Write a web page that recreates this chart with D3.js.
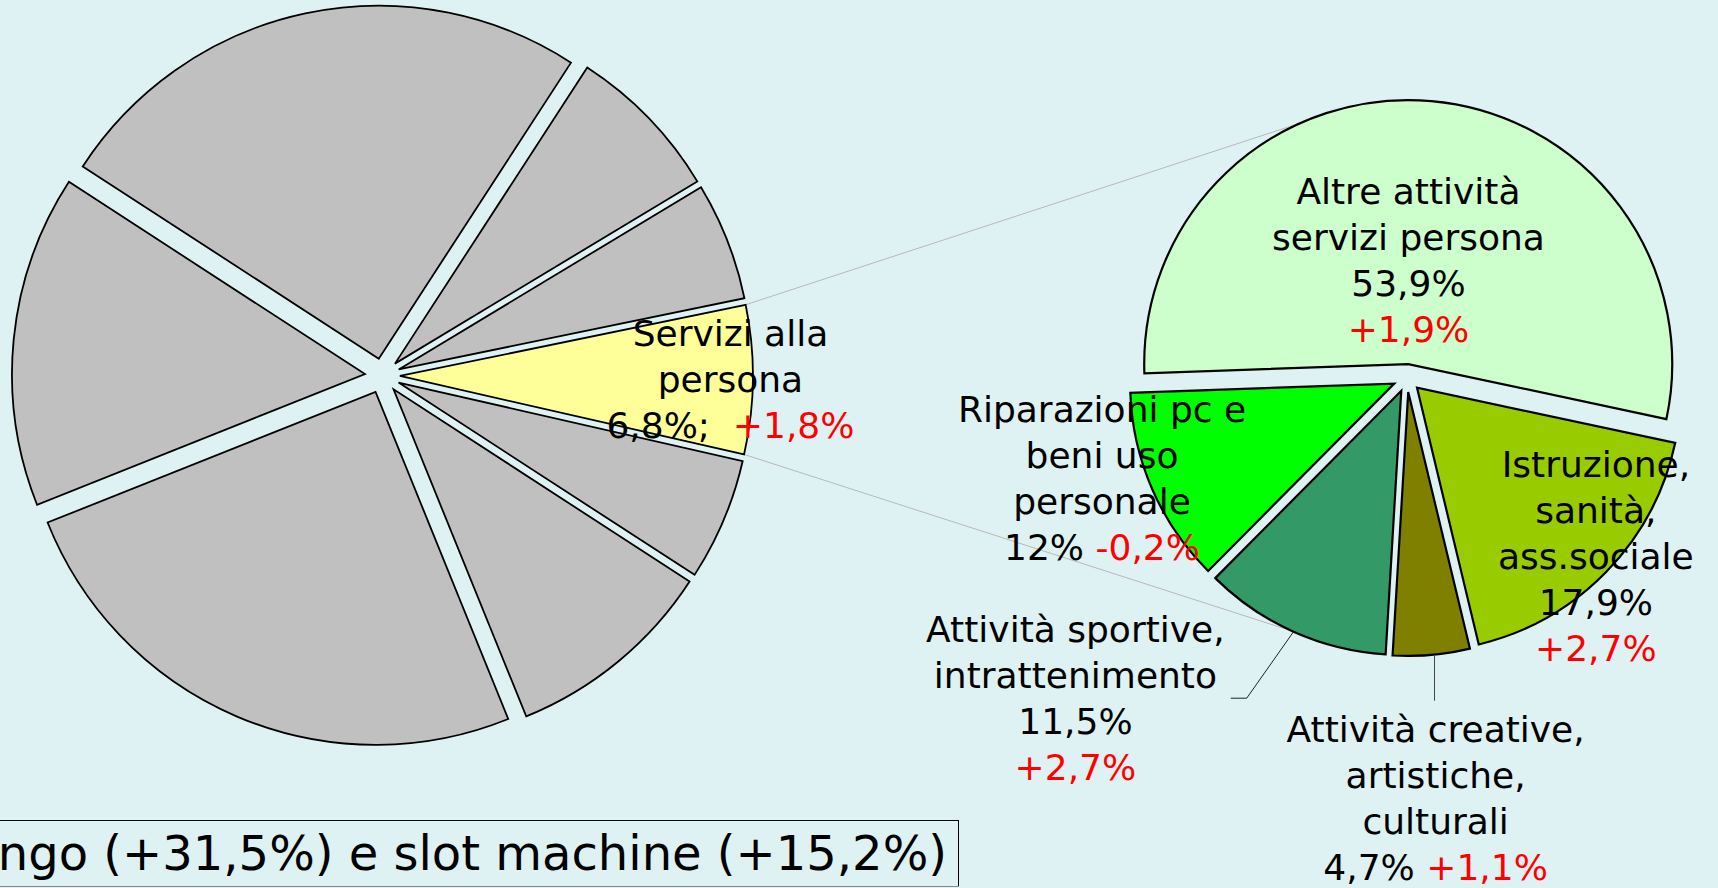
<!DOCTYPE html>
<html><head><meta charset="utf-8">
<script src="https://cdn.jsdelivr.net/npm/d3@7"></script>
<style>
html,body{margin:0;padding:0;background:#DFF2F3;overflow:hidden}
svg{display:block}
text{font-family:"DejaVu Sans",Verdana,sans-serif;white-space:pre}
</style></head><body>
<svg id="chart" width="1718" height="888"></svg>
<script>
// ---------- DATA ----------
const mainCategories = ["Settore 1","Settore 2","Settore 3","Servizi alla persona","Settore 5","Settore 6","Settore 7","Settore 8"];
const mainValues = [25.0, 7.2, 5.4, 6.8, 5.6, 9.7, 25.1, 15.2];
const highlightIndex = 3;
const mainLabelLines = ["Servizi alla", "persona"];
const mainShare = "6,8%;  ";
const mainChange = "+1,8%";

const subCategories = ["Altre attività servizi persona","Istruzione, sanità, ass.sociale","Attività creative, artistiche, culturali","Attività sportive, intrattenimento","Riparazioni pc e beni uso personale"];
const subValues = [53.9, 17.9, 4.7, 11.5, 12.0];
const subNameLines = [
  ["Altre attività","servizi persona"],
  ["Istruzione,","sanità,","ass.sociale"],
  ["Attività creative,","artistiche,","culturali"],
  ["Attività sportive,","intrattenimento"],
  ["Riparazioni pc e","beni uso","personale"]
];
const subShares = ["53,9%","17,9%","4,7%","11,5%","12%"];
const subChanges = ["+1,9%","+2,7%","+1,1%","+2,7%","-0,2%"];
const subChangeInline = [false, false, true, false, true];
const noteText = "Bingo (+31,5%) e slot machine (+15,2%)";

// ---------- STYLE / LAYOUT ----------
const greyFill = "#C0C0C0", highlightFill = "#FFFF99";
const subColors = ["#CCFFCC","#99CC00","#808000","#339966","#00FF00"];
const red = "#FF0000";
const deg = Math.PI/180;
const fontSize = 36, lineH = 46;
const L = {cx:382.4, cy:375.8, r:353, explode:17.5, start:303};
const R = {cx:1407, cy:378, r:264, explode:14, start:268};
const mainLabelPolar = [90.6, 0.986];
const subLabelPolar = [[0.7,0.447],[133.3,0.983],[176.1,1.595],[226,1.746],[251.8,1.216]];
const connectorAngles = [[0,336],[3,204.5]]; // [sub slice index, angle]

const svg = d3.select("#chart");
svg.append("rect").attr("width",1718).attr("height",888).attr("fill","#DFF2F3");

function polar(cx, cy, a, r){ return [cx + r*Math.sin(a), cy - r*Math.cos(a)]; }

function layoutPie(values, P){
  const s = P.start*deg;
  return d3.pie().sort(null).value(d=>d).startAngle(s).endAngle(s+2*Math.PI)(values)
    .map(d=>{ const m=(d.startAngle+d.endAngle)/2;
      d.ox = P.cx + P.explode*Math.sin(m); d.oy = P.cy - P.explode*Math.cos(m); d.mid=m; return d; });
}

const leftArcs = layoutPie(mainValues, L);
const rightArcs = layoutPie(subValues, R);

// connector lines (drawn first)
const hl = leftArcs[highlightIndex];
const gConn = svg.append("g");
const hlCorners = [polar(hl.ox, hl.oy, hl.startAngle, L.r), polar(hl.ox, hl.oy, hl.endAngle, L.r)];
connectorAngles.forEach((c,i)=>{
  const t = rightArcs[c[0]];
  const p = polar(t.ox, t.oy, c[1]*deg, R.r);
  gConn.append("line").attr("x1",hlCorners[i][0]).attr("y1",hlCorners[i][1])
    .attr("x2",p[0]).attr("y2",p[1]).attr("stroke","#B8B8B8").attr("stroke-width",1);
});

// left pie
const arcL = d3.arc().innerRadius(0).outerRadius(L.r);
svg.append("g").selectAll("path").data(leftArcs).join("path")
  .attr("transform",d=>`translate(${d.ox},${d.oy})`)
  .attr("d",arcL)
  .attr("fill",(d,i)=> i===highlightIndex ? highlightFill : greyFill)
  .attr("stroke","#000").attr("stroke-width",1.8).attr("stroke-linejoin","miter");

// right pie
const arcR = d3.arc().innerRadius(0).outerRadius(R.r);
svg.append("g").selectAll("path").data(rightArcs).join("path")
  .attr("transform",d=>`translate(${d.ox},${d.oy})`)
  .attr("d",arcR)
  .attr("fill",(d,i)=>subColors[i])
  .attr("stroke","#000").attr("stroke-width",2.2);

// label helper: lines = array of arrays of [text,color]
function drawLabel(x, y, lines){
  const t = svg.append("text").attr("text-anchor","middle").attr("font-size",fontSize);
  const n = lines.length;
  lines.forEach((segs,i)=>{
    const by = y + (i-(n-1)/2)*lineH + 0.35*fontSize;
    segs.forEach((s,j)=>{
      const ts = t.append("tspan").text(s[0]).attr("fill",s[1]);
      if(j===0) ts.attr("x",x).attr("y",by);
    });
  });
  return t;
}

// left label
{
  const p = polar(L.cx, L.cy, mainLabelPolar[0]*deg, mainLabelPolar[1]*L.r);
  const lines = mainLabelLines.map(s=>[[s,"#000"]]);
  lines.push([[mainShare,"#000"],[mainChange,red]]);
  drawLabel(p[0], p[1], lines);
}

// right labels
const subLabelNodes = subValues.map((v,i)=>{
  const p = polar(R.cx, R.cy, subLabelPolar[i][0]*deg, subLabelPolar[i][1]*R.r);
  const lines = subNameLines[i].map(s=>[[s,"#000"]]);
  if(subChangeInline[i]) lines.push([[subShares[i]+" ","#000"],[subChanges[i],red]]);
  else { lines.push([[subShares[i],"#000"]]); lines.push([[subChanges[i],red]]); }
  return {node:drawLabel(p[0], p[1], lines), x:p[0], y:p[1]};
});

// leader lines
{
  // sportive: elbow
  const a = rightArcs[3];
  const s = polar(a.ox, a.oy, a.mid, R.r);
  const bb = subLabelNodes[3].node.node().getBBox();
  const ex = bb.x + bb.width + 6, ey = subLabelNodes[3].y;
  svg.append("polyline").attr("points",[[s[0],s[1]],[ex+16,ey],[ex,ey]].map(p=>p.join(",")).join(" "))
    .attr("fill","none").attr("stroke","#222").attr("stroke-width",1);
  // creative: vertical
  const c = rightArcs[2];
  const s2 = polar(c.ox, c.oy, c.mid, R.r);
  const bb2 = subLabelNodes[2].node.node().getBBox();
  svg.append("line").attr("x1",s2[0]+3).attr("y1",s2[1]).attr("x2",s2[0]+3).attr("y2",bb2.y-8)
    .attr("stroke","#444").attr("stroke-width",1);
}

// note box (clipped at left edge)
svg.append("rect").attr("x",-20.5).attr("y",820.5).attr("width",979).attr("height",66)
  .attr("fill","none").attr("stroke","#000").attr("stroke-width",1);
svg.append("line").attr("x1",0).attr("x2",959).attr("y1",886.5).attr("y2",886.5).attr("stroke","#888").attr("stroke-width",1);
svg.append("text").attr("x",947).attr("y",870).attr("text-anchor","end")
  .attr("font-size",48).attr("fill","#000").text(noteText);
</script>
</body></html>
